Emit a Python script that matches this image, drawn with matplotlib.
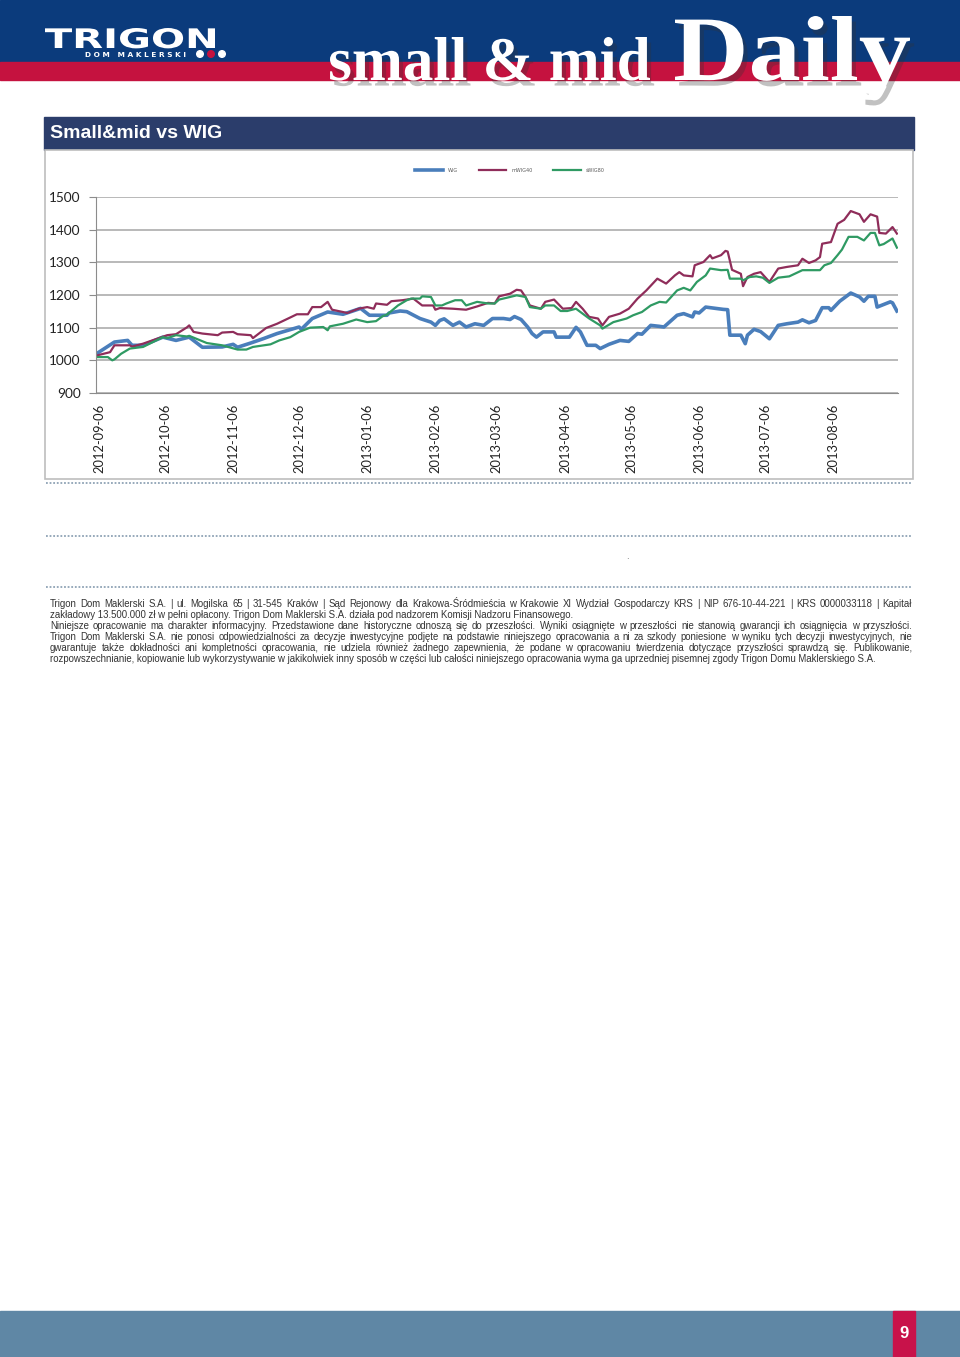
import numpy as np
import pandas as pd
import matplotlib
matplotlib.use("Agg")
import matplotlib.pyplot as plt
import matplotlib.patheffects as pe
from matplotlib.patches import Rectangle, Circle, PathPatch
from matplotlib.textpath import TextPath
from matplotlib.font_manager import FontProperties
from matplotlib.transforms import Affine2D

# --- Data (day offsets from 2012-09-06, index level) ---
BASE_DATE = "2012-09-06"

wig_days = [-1, 7, 13, 15, 20, 29, 35, 41, 47, 56, 61, 63, 69, 75, 81, 91, 92, 97, 104,
            111, 119, 123, 131, 132, 137, 140, 146, 151, 153, 155, 157, 161, 164, 167,
            171, 175, 179, 184, 187, 189, 192, 195, 197, 199, 202, 207, 208, 214, 217,
            219, 222, 226, 228, 232, 237, 241, 245, 247, 251, 255, 257, 263, 266, 270,
            271, 273, 276, 284, 286, 287, 292, 294, 295, 298, 301, 305, 309, 313, 318,
            320, 323, 326, 329, 332, 333, 337, 342, 346, 348, 350, 353, 354, 360, 361, 363]
wig_vals = [1021, 1056, 1061, 1046, 1046, 1071, 1061, 1071, 1040, 1041, 1049, 1040, 1053,
            1067, 1082, 1102, 1095, 1128, 1148, 1141, 1159, 1138, 1138, 1145, 1151, 1149,
            1128, 1117, 1107, 1122, 1127, 1107, 1117, 1102, 1112, 1107, 1128, 1128, 1125,
            1134, 1125, 1102, 1082, 1071, 1087, 1087, 1071, 1071, 1101, 1087, 1046, 1046,
            1036, 1049, 1061, 1058, 1082, 1080, 1107, 1104, 1102, 1138, 1143, 1133, 1148,
            1145, 1163, 1156, 1155, 1077, 1077, 1051, 1077, 1095, 1088, 1066, 1107, 1112,
            1117, 1124, 1115, 1122, 1161, 1161, 1153, 1181, 1206, 1194, 1181, 1196, 1196,
            1163, 1179, 1176, 1151]

mwig_days = [-1, 5, 7, 14, 15, 20, 31, 35, 40, 41, 43, 47, 54, 56, 61, 63, 69, 70, 76, 81,
             86, 90, 95, 97, 101, 104, 106, 113, 118, 122, 125, 126, 131, 133, 138, 143,
             147, 152, 153, 155, 161, 167, 172, 177, 180, 182, 187, 190, 192, 194, 196, 201,
             203, 207, 211, 215, 217, 220, 223, 227, 229, 232, 237, 241, 245, 249, 254, 258,
             262, 264, 266, 270, 271, 275, 278, 279, 283, 285, 286, 288, 292, 293, 295, 298,
             301, 305, 309, 313, 318, 320, 323, 326, 328, 329, 333, 336, 339, 342, 346, 348,
             351, 354, 355, 358, 361, 363]
mwig_vals = [1015, 1025, 1046, 1046, 1042, 1051, 1077, 1080, 1101, 1107, 1087, 1082, 1077,
             1085, 1087, 1080, 1077, 1068, 1099, 1112, 1128, 1141, 1141, 1163, 1163, 1179,
             1155, 1145, 1158, 1163, 1158, 1174, 1170, 1181, 1184, 1189, 1168, 1168, 1155,
             1160, 1158, 1155, 1165, 1176, 1174, 1196, 1204, 1216, 1214, 1194, 1168, 1158,
             1179, 1186, 1158, 1160, 1179, 1158, 1133, 1128, 1107, 1133, 1143, 1158, 1189,
             1214, 1250, 1235, 1260, 1270, 1260, 1257, 1291, 1301, 1322, 1312, 1322, 1335,
             1333, 1277, 1265, 1227, 1255, 1265, 1270, 1240, 1281, 1286, 1291, 1311, 1298,
             1306, 1316, 1357, 1362, 1418, 1430, 1457, 1447, 1424, 1447, 1440, 1390, 1388,
             1408, 1388]

swig_days = [-1, 4, 6, 7, 10, 14, 20, 29, 31, 35, 40, 41, 49, 56, 63, 67, 70, 78, 82, 87,
             91, 96, 102, 104, 105, 111, 117, 122, 126, 129, 131, 136, 140, 142, 146, 147,
             151, 153, 156, 158, 162, 165, 167, 172, 177, 180, 182, 187, 190, 194, 196, 201,
             203, 207, 210, 213, 217, 220, 223, 228, 229, 234, 240, 243, 247, 251, 255, 258,
             263, 266, 269, 272, 276, 278, 283, 286, 287, 292, 293, 296, 299, 302, 305, 309,
             314, 320, 328, 330, 333, 336, 338, 341, 345, 348, 351, 353, 355, 357, 361, 363]
swig_vals = [1010, 1010, 1000, 1003, 1020, 1036, 1041, 1071, 1068, 1077, 1073, 1075, 1053,
             1046, 1033, 1033, 1041, 1049, 1061, 1071, 1087, 1100, 1102, 1092, 1104, 1112,
             1125, 1117, 1120, 1135, 1140, 1168, 1184, 1189, 1189, 1196, 1194, 1168, 1168,
             1174, 1184, 1184, 1168, 1179, 1174, 1174, 1186, 1194, 1199, 1194, 1163, 1158,
             1168, 1168, 1151, 1151, 1158, 1143, 1128, 1107, 1097, 1117, 1128, 1138, 1148,
             1168, 1179, 1177, 1214, 1222, 1214, 1240, 1260, 1281, 1276, 1277, 1250, 1250,
             1245, 1255, 1257, 1253, 1237, 1253, 1257, 1276, 1276, 1291, 1298, 1322, 1339,
             1378, 1378, 1367, 1390, 1390, 1352, 1356, 1373, 1345]

series_names = ["WIG", "mWIG40", "sWIG80"]
series_colors = ["#4a7ebb", "#8f2d5a", "#2f9a63"]

tick_labels = ["2012-09-06", "2012-10-06", "2012-11-06", "2012-12-06", "2013-01-06",
               "2013-02-06", "2013-03-06", "2013-04-06", "2013-05-06", "2013-06-06",
               "2013-07-06", "2013-08-06"]
y_ticks = [900, 1000, 1100, 1200, 1300, 1400, 1500]

footer_lines = [
    "Trigon Dom Maklerski S.A. | ul. Mogilska 65 | 31-545 Kraków | Sąd Rejonowy dla Krakowa-Śródmieścia w Krakowie XI Wydział Gospodarczy KRS | NIP 676-10-44-221 | KRS 0000033118 | Kapitał",
    "zakładowy 13.500.000 zł w pełni opłacony. Trigon Dom Maklerski S.A. działa pod nadzorem Komisji Nadzoru Finansowego.",
    "Niniejsze opracowanie ma charakter informacyjny. Przedstawione dane historyczne odnoszą się do przeszłości. Wyniki osiągnięte w przeszłości nie stanowią gwarancji ich osiągnięcia w przyszłości.",
    "Trigon Dom Maklerski S.A. nie ponosi odpowiedzialności za decyzje inwestycyjne podjęte na podstawie niniejszego opracowania a ni za szkody poniesione w wyniku tych decyzji inwestycyjnych, nie",
    "gwarantuje także dokładności ani kompletności opracowania, nie udziela również żadnego zapewnienia, że podane w opracowaniu twierdzenia dotyczące przyszłości sprawdzą się. Publikowanie,",
    "rozpowszechnianie, kopiowanie lub wykorzystywanie w jakikolwiek inny sposób w części lub całości niniejszego opracowania wyma ga uprzedniej pisemnej zgody Trigon Domu Maklerskiego S.A.",
]
footer_justified = [True, False, True, True, True, False]

W, H = 960, 1357
fig = plt.figure(figsize=(W / 100, H / 100), dpi=100)

# background axes in pixel coordinates (y down)
bg = fig.add_axes([0, 0, 1, 1])
bg.set_xlim(0, W)
bg.set_ylim(H, 0)
bg.axis("off")


def path_text(s, x0, x1, baseline, top, prop, color, effects=None, z=3):
    # draw text as a path stretched into the given pixel box
    tp = TextPath((0, 0), s, size=100, prop=prop)
    ext = tp.get_extents()
    sx = (x1 - x0) / ext.width
    sy = (baseline - top) / ext.y1
    tr = Affine2D().translate(-ext.x0, 0).scale(sx, -sy).translate(x0, baseline)
    p = PathPatch(tr.transform_path(tp), facecolor=color, lw=0, zorder=z)
    if effects:
        p.set_path_effects(effects)
    bg.add_patch(p)


# --- header ---
bg.add_patch(Rectangle((0, 0), W, 62, color="#0b3b7c", zorder=1))
bg.add_patch(Rectangle((0, 62), W, 18, color="#c5123f", zorder=1))

serif_bold = FontProperties(family="Liberation Serif", weight="bold")
shadow = [pe.SimplePatchShadow(offset=(3, -4), shadow_rgbFace="#333333", alpha=0.3), pe.Normal()]
path_text("small & mid", 330, 650, 80, 37, serif_bold, "white", shadow)
path_text("Daily", 675, 910, 80, 16, serif_bold, "white", shadow)

# logo
path_text("TRIGON", 45, 215, 48, 28, FontProperties(family="DejaVu Sans", weight="bold"), "white")
bg.text(85, 55, "D O M   M A K L E R S K I", fontsize=5.3, color="white", va="center",
        ha="left", fontweight="bold", zorder=3)
for cx, col in zip([200, 211, 222], ["white", "#c5123f", "white"]):
    bg.add_patch(Circle((cx, 54), 3.3, color=col, zorder=3))

# section title
bg.add_patch(Rectangle((44, 117), 870, 33, color="#2b3d6b", zorder=1))
bg.text(50, 133.5, "Small&mid vs WIG", fontfamily="Liberation Sans", fontweight="bold",
        fontsize=14, color="white", va="center", ha="left", zorder=3)

# chart frame
bg.add_patch(Rectangle((45, 150), 868, 329, facecolor="white", edgecolor="#bdbdbd", lw=1.2, zorder=1))

# dotted separators
for yy in [483, 536, 587]:
    bg.plot([46, 912], [yy, yy], color="#8fa3b5", lw=1.3, ls=(0, (1, 1)), zorder=2)
bg.text(627, 561, ".", fontsize=6, color="#555555", ha="center", va="bottom")

# footer text with justification
renderer = fig.canvas.get_renderer()
x_left, x_right = 50, 912
for i, (line, just) in enumerate(zip(footer_lines, footer_justified)):
    yy = 607 + 11 * i
    kw = dict(fontfamily="Liberation Sans", fontsize=6.95, color="#333333", va="baseline", ha="left")
    if not just:
        bg.text(x_left, yy, line, **kw)
        continue
    words = line.split(" ")
    texts = [bg.text(0, yy, w, **kw) for w in words]
    widths = [t.get_window_extent(renderer).width for t in texts]
    gap = (x_right - x_left - sum(widths)) / (len(words) - 1)
    x = x_left
    for t, wd in zip(texts, widths):
        t.set_x(x)
        x += wd + gap

# bottom band
bg.add_patch(Rectangle((0, 1311), W, 46, color="#5f87a5", zorder=1))
bg.add_patch(Rectangle((893, 1311), 22, 46, color="#c8124a", zorder=2))
bg.text(904, 1333, "9", fontfamily="Liberation Sans", fontweight="bold", fontsize=12,
        color="white", ha="center", va="center", zorder=3)

# --- chart ---
ax = fig.add_axes([96 / W, 1 - 393 / H, (898 - 96) / W, (393 - 197) / H])
ax.set_facecolor("none")
base = pd.Timestamp(BASE_DATE)
all_days = [wig_days, mwig_days, swig_days]
all_vals = [wig_vals, mwig_vals, swig_vals]
lws = [2.6, 1.6, 1.6]
for days, vals, name, col, lw in zip(all_days, all_vals, series_names, series_colors, lws):
    dates = base + pd.to_timedelta(days, unit="D")
    ax.plot(dates, vals, color=col, lw=lw, label=name, solid_joinstyle="round")

ax.set_ylim(900, 1500)
ax.set_yticks(y_ticks)
ax.set_xlim(base - pd.Timedelta(days=1.4), base + pd.Timedelta(days=363.5))
ax.set_xticks(pd.to_datetime(tick_labels))
ax.set_xticklabels(tick_labels, rotation=90, fontfamily="Lato", fontsize=9.3, color="#222222")
for lab in ax.get_yticklabels():
    lab.set_fontfamily("Lato")
    lab.set_fontsize(9.8)
    lab.set_color("#222222")
ax.grid(axis="y", color="#a6a6a6", lw=1.1)
ax.set_axisbelow(True)
for s in ["top", "right"]:
    ax.spines[s].set_visible(False)
for s in ["left", "bottom"]:
    ax.spines[s].set_color("#8c8c8c")
ax.tick_params(axis="y", length=5, color="#8c8c8c", pad=6)
ax.tick_params(axis="x", length=0, pad=8)

fig.legend(loc="center", bbox_to_anchor=(510 / W, 1 - 170 / H), ncol=3, frameon=False,
           fontsize=3.5, handlelength=5.7, handletextpad=1.0, columnspacing=4.3,
           labelcolor="#595959")

fig.savefig("out.png", dpi=100)
